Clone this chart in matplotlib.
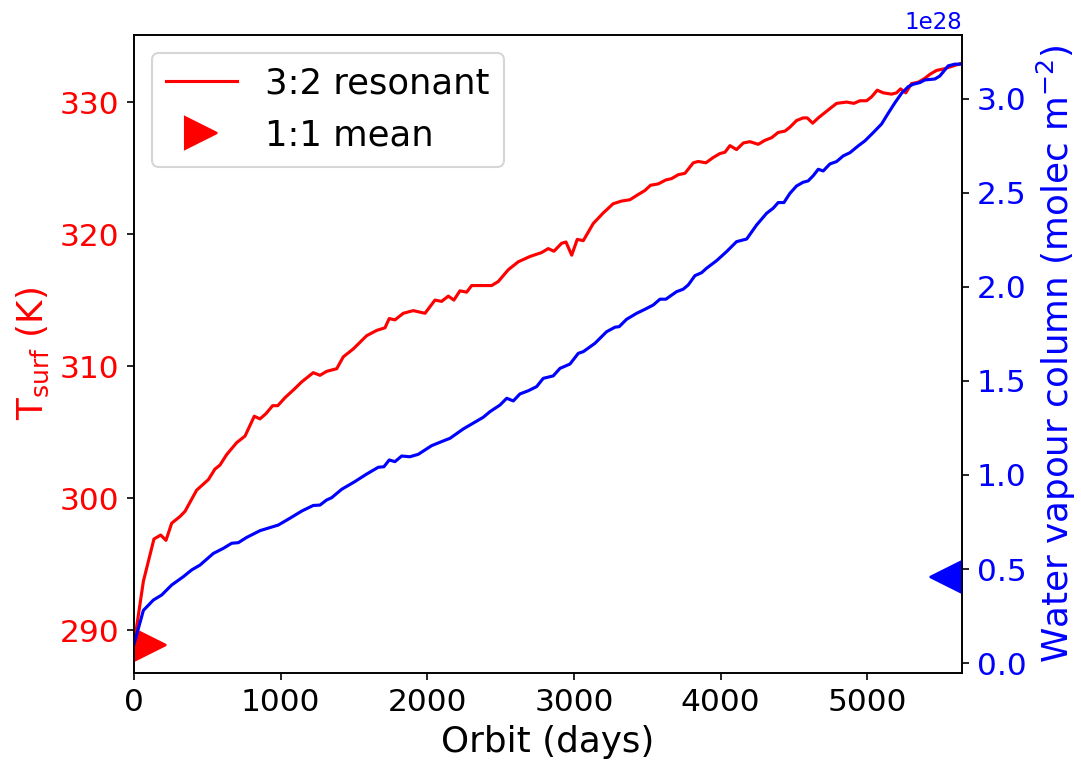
import matplotlib
matplotlib.use("Agg")
import matplotlib.pyplot as plt

# Surface temperature, 3:2 resonant orbit run
t_days = [0, 64, 136, 182, 218, 257, 313, 348, 427, 507, 552, 586, 632, 700, 757,
          820, 859, 900, 945, 980, 1029, 1097, 1143, 1222, 1268, 1313, 1382, 1427,
          1495, 1586, 1654, 1711, 1740, 1779, 1836, 1904, 1984, 2052, 2097, 2143,
          2181, 2222, 2268, 2302, 2393, 2438, 2483, 2552, 2620, 2699, 2779, 2824,
          2863, 2915, 2945, 2984, 3022, 3063, 3131, 3199, 3267, 3324, 3381, 3438,
          3483, 3522, 3574, 3626, 3665, 3711, 3756, 3813, 3847, 3899, 3949, 3995,
          4029, 4063, 4108, 4154, 4199, 4256, 4301, 4347, 4392, 4438, 4472, 4517,
          4562, 4590, 4627, 4665, 4710, 4744, 4790, 4858, 4908, 4949, 4995, 5029,
          5067, 5108, 5165, 5199, 5226, 5262, 5301, 5346, 5392, 5426, 5472, 5517,
          5574, 5631]
t_surf = [288.9, 293.7, 296.9, 297.2, 296.8, 298.1, 298.6, 299.0, 300.6, 301.4,
          302.2, 302.5, 303.3, 304.2, 304.7, 306.2, 306.0, 306.4, 307.0, 307.0,
          307.6, 308.3, 308.8, 309.5, 309.3, 309.6, 309.8, 310.7, 311.3, 312.3,
          312.7, 312.9, 313.6, 313.5, 314.0, 314.2, 314.0, 315.0, 314.9, 315.3,
          315.0, 315.7, 315.6, 316.1, 316.1, 316.1, 316.4, 317.3, 317.9, 318.3,
          318.6, 318.9, 318.7, 319.3, 319.4, 318.4, 319.6, 319.5, 320.8, 321.6,
          322.3, 322.5, 322.6, 323.0, 323.3, 323.7, 323.8, 324.1, 324.2, 324.5,
          324.6, 325.4, 325.5, 325.4, 325.8, 326.1, 326.2, 326.7, 326.4, 326.9,
          327.0, 326.8, 327.1, 327.3, 327.7, 327.8, 328.1, 328.6, 328.8, 328.8,
          328.4, 328.8, 329.2, 329.5, 329.9, 330.0, 329.9, 330.1, 330.1, 330.4,
          330.9, 330.7, 330.6, 330.7, 331.0, 330.7, 331.4, 331.5, 331.8, 332.1,
          332.4, 332.5, 332.7, 332.9]

# Water vapour column (units of 1e28 molec m^-2)
w_days = [0, 64, 132, 189, 257, 336, 393, 450, 541, 609, 666, 711, 768, 859, 984,
          1063, 1143, 1222, 1268, 1313, 1347, 1416, 1506, 1586, 1665, 1704, 1740,
          1779, 1825, 1881, 1938, 2029, 2108, 2154, 2245, 2302, 2381, 2427, 2495,
          2541, 2586, 2631, 2688, 2745, 2790, 2858, 2904, 2972, 3029, 3063, 3142,
          3222, 3279, 3308, 3358, 3427, 3483, 3540, 3586, 3626, 3699, 3744, 3779,
          3824, 3870, 3904, 3972, 4040, 4108, 4177, 4245, 4313, 4358, 4392, 4431,
          4472, 4517, 4562, 4596, 4631, 4665, 4699, 4744, 4790, 4835, 4881, 4937,
          4983, 5040, 5097, 5142, 5188, 5233, 5278, 5312, 5358, 5392, 5460, 5494,
          5551, 5597, 5637]
w_col = [0.10, 0.28, 0.335, 0.362, 0.415, 0.459, 0.495, 0.521, 0.583, 0.610,
         0.637, 0.640, 0.668, 0.704, 0.734, 0.770, 0.808, 0.838, 0.840, 0.867,
         0.879, 0.924, 0.965, 1.005, 1.041, 1.044, 1.080, 1.071, 1.101, 1.097,
         1.110, 1.156, 1.181, 1.195, 1.245, 1.271, 1.307, 1.337, 1.372, 1.408,
         1.394, 1.431, 1.448, 1.470, 1.514, 1.527, 1.567, 1.590, 1.647, 1.656,
         1.700, 1.762, 1.786, 1.789, 1.828, 1.860, 1.881, 1.904, 1.935, 1.935,
         1.975, 1.988, 2.011, 2.060, 2.076, 2.100, 2.140, 2.188, 2.241, 2.255,
         2.330, 2.392, 2.419, 2.449, 2.449, 2.498, 2.537, 2.557, 2.564, 2.592,
         2.626, 2.617, 2.654, 2.667, 2.697, 2.714, 2.750, 2.777, 2.821, 2.867,
         2.924, 2.980, 3.030, 3.065, 3.078, 3.087, 3.101, 3.106, 3.122, 3.176,
         3.185, 3.185]
w_scale = 1e28

# 1:1 synchronous mean values
mean_t_day, mean_t = 110, 288.85
mean_w_day, mean_w = 5539, 0.455

fig = plt.figure(figsize=(1081 / 150, 764 / 150), dpi=150)
ax1 = fig.add_axes([134 / 1081, 91 / 764, 828 / 1081, 638 / 764])

ax1.plot(t_days, t_surf, color="red", lw=1.5, label="3:2 resonant")
ax1.plot([mean_t_day], [mean_t], marker=">", color="red", ms=15,
         linestyle="none", label="1:1 mean")
ax1.set_xlim(0, 5645)
ax1.set_ylim(286.75, 335.08)
ax1.set_xlabel("Orbit (days)", fontsize=17.2)
ax1.set_ylabel(r"$\mathrm{T_{surf}}$ (K)", color="red", fontsize=17.2)
ax1.tick_params(axis="both", labelsize=15)
ax1.tick_params(axis="y", labelcolor="red")
ax1.legend(loc="upper left", fontsize=17)

ax2 = ax1.twinx()
ax2.plot(w_days, [v * w_scale for v in w_col], color="blue", lw=1.5)
ax2.plot([mean_w_day], [mean_w * w_scale], marker="<", color="blue", ms=15,
         linestyle="none")
ax2.set_ylim(-0.053 * w_scale, 3.34 * w_scale)
ax2.set_ylabel(r"Water vapour column (molec m$^{-2}$)", color="blue", fontsize=17.2)
ax2.tick_params(axis="y", labelsize=15, labelcolor="blue")
ax2.yaxis.get_offset_text().set_color("blue")
ax2.yaxis.get_offset_text().set_fontsize(11)

fig.savefig("out.png", dpi=150)
